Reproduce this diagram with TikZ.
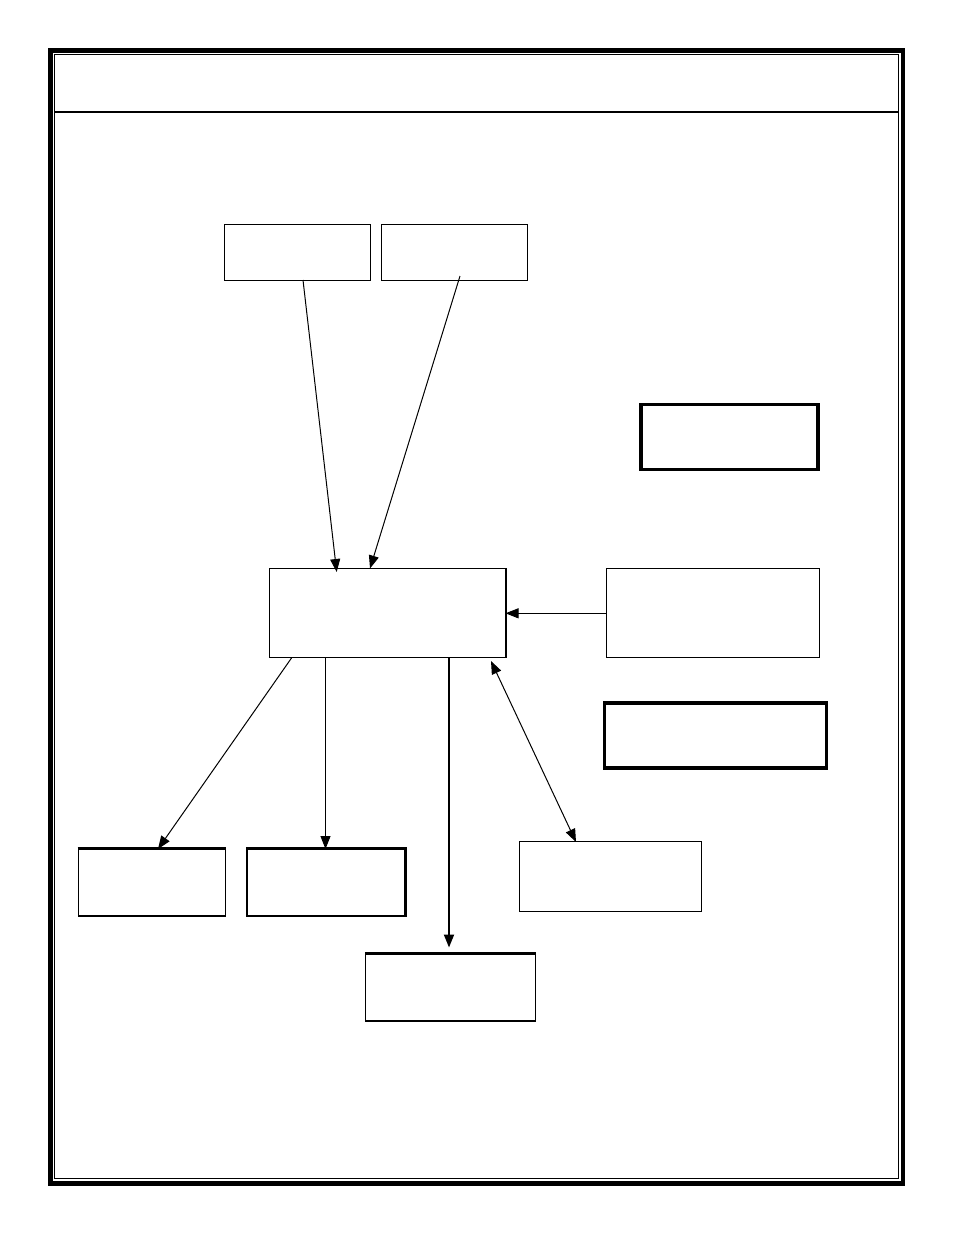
\documentclass[tikz,border=0pt]{standalone}
\usetikzlibrary{arrows.meta}
\begin{document}
\begin{tikzpicture}[x=1pt,y=-1pt,
  thinbox/.style={draw=black,line width=1.1pt},
  thickbox/.style={draw=black,line width=3.2pt},
  conn/.style={draw=black,line width=1pt,-{Triangle[length=13pt,width=10pt]}},
  dconn/.style={draw=black,line width=1pt,{Triangle[length=13pt,width=10pt]}-{Triangle[length=13pt,width=10pt]}}]
\useasboundingbox (0,0) rectangle (954,1235);
% frame
\draw[line width=4.6pt] (50.3,50.3) rectangle (903,1183.5);
\draw[line width=1pt] (54.5,54.5) rectangle (898.5,1178.5);
\coordinate (hl) at (54.5,112);
\coordinate (hr) at (898.5,112);
\draw[line width=1.1pt] (hl) -- (hr);
% boxes
\node[thinbox,minimum width=146pt,minimum height=56pt,inner sep=0pt] (A) at (297.5,252.3) {};
\node[thinbox,minimum width=146pt,minimum height=56pt,inner sep=0pt] (B) at (454.3,252.3) {};
\node[thickbox,minimum width=177pt,minimum height=65pt,inner sep=0pt] (C) at (729.5,437.3) {};
\node[thinbox,minimum width=213pt,minimum height=89pt,inner sep=0pt] (D) at (713,613.3) {};
\node[thickbox,minimum width=222pt,minimum height=65pt,inner sep=0pt] (E) at (715.5,735.5) {};
\node[thinbox,minimum width=236pt,minimum height=89pt,inner sep=0pt] (M) at (387.3,613.3) {};
\draw[line width=2pt] (M.north east) -- (M.south east);
\node[thinbox,minimum width=147pt,minimum height=67pt,inner sep=0pt] (F) at (151.7,882.5) {};
\draw[line width=2pt] (F.north west) -- (F.north east);
\node[thinbox,minimum width=158pt,minimum height=67pt,inner sep=0pt] (G) at (326,882.5) {};
\draw[line width=2pt] (G.north west) -- (G.north east) -- (G.south east);
\node[thinbox,minimum width=170pt,minimum height=67pt,inner sep=0pt] (H) at (450.5,987.5) {};
\draw[line width=2pt] (H.north west) -- (H.north east);
\node[thinbox,minimum width=182pt,minimum height=70pt,inner sep=0pt] (I) at (610.5,876.5) {};
% connector end points
\coordinate (a1) at (303,280);
\coordinate (a2) at (336.7,572);
\coordinate (b1) at (460,276);
\coordinate (b2) at (370,568.5);
\coordinate (d1) at (606,613.3);
\coordinate (d2) at (505.5,613.3);
\coordinate (m1) at (291.5,658);
\coordinate (f1) at (158,849);
\coordinate (m2) at (325.5,658);
\coordinate (g1) at (325.5,849);
\coordinate (m3) at (449,658);
\coordinate (h1) at (449,947.5);
\coordinate (m4) at (491,661);
\coordinate (i1) at (576,842);
\draw[conn] (a1) -- (a2);
\draw[conn] (b1) -- (b2);
\draw[conn] (d1) -- (d2);
\draw[conn] (m1) -- (f1);
\draw[conn] (m2) -- (g1);
\draw[conn,line width=2pt] (m3) -- (h1);
\draw[dconn] (m4) -- (i1);
\end{tikzpicture}
\end{document}
